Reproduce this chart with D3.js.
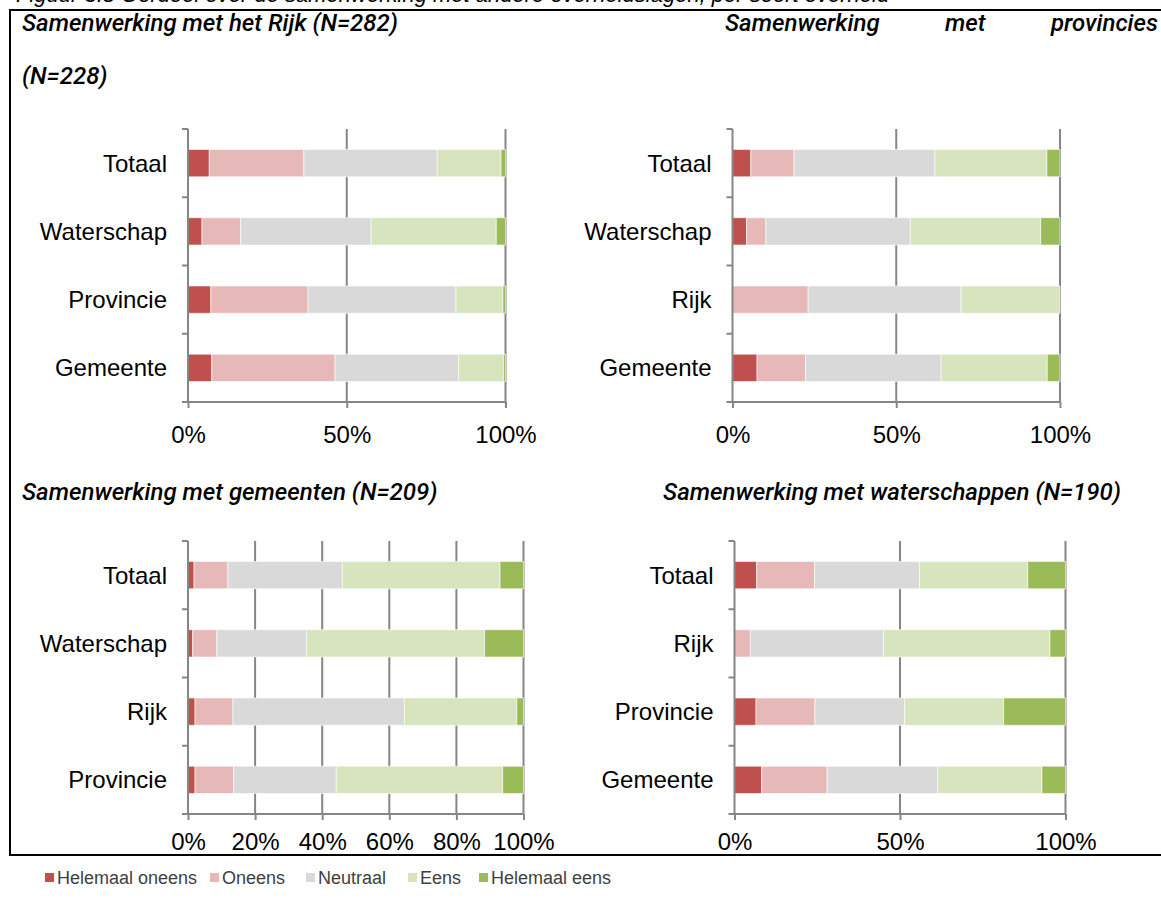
<!DOCTYPE html>
<html>
<head>
<meta charset="utf-8">
<script src="https://cdn.jsdelivr.net/npm/d3@7"></script>
<style>
  body { margin: 0; background: #fff; }
  svg { display: block; }
</style>
</head>
<body>
<script>
// answer scale, left to right in every bar
var answers = ["Helemaal oneens", "Oneens", "Neutraal", "Eens", "Helemaal eens"];
var answerColors = ["#C0504D", "#E6B9B8", "#D9D9D9", "#D7E4BD", "#9BBB59"];

// Samenwerking met het Rijk (N=282)
var rijkCategories = ["Totaal", "Waterschap", "Provincie", "Gemeente"];
var rijkValues = [
  [6.7, 29.8, 42.0, 20.1, 1.4],
  [4.4, 12.2, 41.1, 39.4, 2.9],
  [7.2, 30.6, 46.6, 14.8, 0.8],
  [7.5, 38.8, 38.9, 14.2, 0.6]
];

// Samenwerking met provincies (N=228)
var provCategories = ["Totaal", "Waterschap", "Rijk", "Gemeente"];
var provValues = [
  [5.6, 13.2, 43.0, 34.2, 4.0],
  [4.3, 5.9, 44.1, 39.8, 5.9],
  [0, 23.1, 46.7, 30.2, 0],
  [7.5, 14.8, 41.4, 32.4, 3.9]
];

// Samenwerking met gemeenten (N=209)
var gemCategories = ["Totaal", "Waterschap", "Rijk", "Provincie"];
var gemValues = [
  [1.8, 10.1, 34.1, 47.0, 7.0],
  [1.4, 7.2, 26.7, 53.1, 11.6],
  [2.1, 11.3, 51.1, 33.5, 2.0],
  [2.1, 11.5, 30.6, 49.6, 6.2]
];

// Samenwerking met waterschappen (N=190)
var wsCategories = ["Totaal", "Rijk", "Provincie", "Gemeente"];
var wsValues = [
  [6.7, 17.5, 31.7, 32.7, 11.4],
  [0, 4.8, 40.2, 50.3, 4.7],
  [6.5, 17.8, 27.1, 29.9, 18.7],
  [8.2, 19.8, 33.4, 31.5, 7.1]
];

var ticksHalf = [0, 50, 100];
var ticksFifth = [0, 20, 40, 60, 80, 100];

var width = 1161, height = 909;
var axisColor = "#868686";
var labelFont = "Liberation Sans, Arial, sans-serif";
var titleFamily = "Roboto, Liberation Sans, sans-serif";

var svg = d3.select("body").append("svg")
  .attr("width", width)
  .attr("height", height);

// caption of the figure, cut off by the top of the picture
svg.append("text")
  .attr("x", 16).attr("y", 2)
  .style("font-family", labelFont)
  .style("font-size", "22px")
  .style("font-style", "italic")
  .text("Figuur 3.8 Oordeel over de samenwerking met andere overheidslagen, per soort overheid");

// frame round the four charts
svg.append("rect")
  .attr("x", 10).attr("y", 10)
  .attr("width", 1170).attr("height", 845)
  .attr("fill", "#fff")
  .attr("stroke", "#000")
  .attr("stroke-width", 2);

// panel titles
function title(x, y, str, anchor) {
  return svg.append("text")
    .attr("x", x).attr("y", y)
    .attr("text-anchor", anchor || "start")
    .style("font-family", titleFamily)
    .style("font-size", "24px")
    .style("font-style", "italic")
    .style("font-weight", 500)
    .attr("fill", "#000")
    .text(str);
}

title(22, 31, "Samenwerking met het Rijk (N=282)");

// second title is justified over the rest of the line, its N wraps below
var w1 = title(725, 31, "Samenwerking");
var w3 = title(1158, 31, "provincies", "end");
var gapMid = (725 + w1.node().getComputedTextLength() +
  1158 - w3.node().getComputedTextLength()) / 2;
title(gapMid, 31, "met", "middle");
title(22, 84, "(N=228)");

title(22, 500, "Samenwerking met gemeenten (N=209)");
title(892, 500, "Samenwerking met waterschappen (N=190)", "middle");

var panels = [
  { cats: rijkCategories, vals: rijkValues, ticks: ticksHalf, x0: 188, x1: 505.5, y0: 129, y1: 402, pad: 18 },
  { cats: provCategories, vals: provValues, ticks: ticksHalf, x0: 732.5, x1: 1060, y0: 129, y1: 402, pad: 18 },
  { cats: gemCategories, vals: gemValues, ticks: ticksFifth, x0: 188, x1: 523.5, y0: 541, y1: 814, pad: 13 },
  { cats: wsCategories, vals: wsValues, ticks: ticksHalf, x0: 734.5, x1: 1065.5, y0: 541, y1: 814, pad: 13 }
];

panels.forEach(function (p) {
  var x = d3.scaleLinear().domain([0, 100]).range([p.x0, p.x1]);
  var y = d3.scaleBand().domain(p.cats).range([p.y0, p.y1])
    .paddingInner(0.6).paddingOuter(0.3);

  var g = svg.append("g");

  // vertical gridlines
  g.selectAll(".grid")
    .data(p.ticks.slice(1))
    .enter().append("line")
    .attr("x1", function (d) { return x(d); })
    .attr("x2", function (d) { return x(d); })
    .attr("y1", p.y0).attr("y2", p.y1)
    .attr("stroke", axisColor)
    .attr("stroke-width", 2);

  // stacked bars
  var rows = p.vals.map(function (v, i) {
    var acc = 0;
    return v.map(function (val, j) {
      var s = { cat: p.cats[i], k: j, start: acc, end: acc + val };
      acc += val;
      return s;
    });
  });

  g.selectAll(".row")
    .data(rows)
    .enter().append("g")
    .selectAll("rect")
    .data(function (d) { return d.filter(function (s) { return s.end > s.start; }); })
    .enter().append("rect")
    .attr("x", function (s) { return x(s.start); })
    .attr("width", function (s) { return x(s.end) - x(s.start); })
    .attr("y", function (s) { return y(s.cat); })
    .attr("height", y.bandwidth())
    .attr("fill", function (s) { return answerColors[s.k]; })
    .attr("stroke", "#fff")
    .attr("stroke-opacity", 0.6)
    .attr("stroke-width", 1);

  // x axis
  var xAxis = d3.axisBottom(x).tickValues(p.ticks)
    .tickFormat(function (d) { return d + "%"; })
    .tickSize(6).tickSizeOuter(0).tickPadding(p.pad);
  var gx = g.append("g")
    .attr("transform", "translate(0," + p.y1 + ")")
    .call(xAxis);
  gx.select(".domain").remove();
  gx.append("line")
    .attr("x1", p.x0 - 6).attr("x2", p.x1)
    .attr("stroke", axisColor).attr("stroke-width", 2);
  gx.selectAll(".tick line").attr("stroke", axisColor).attr("stroke-width", 2);
  gx.selectAll(".tick text")
    .attr("fill", "#000")
    .style("font-family", labelFont)
    .style("font-size", "24px");

  // y axis with ticks on the band boundaries
  var gy = g.append("g")
    .attr("transform", "translate(" + p.x0 + ",0)");
  gy.append("line")
    .attr("y1", p.y0).attr("y2", p.y1)
    .attr("stroke", axisColor).attr("stroke-width", 2);
  var bounds = p.cats.map(function (c) { return y(c) - y.step() * y.paddingInner() / 2; });
  bounds[0] = p.y0;
  gy.selectAll(".ytick")
    .data(bounds)
    .enter().append("line")
    .attr("x1", -6).attr("x2", 0)
    .attr("y1", function (d) { return d; })
    .attr("y2", function (d) { return d; })
    .attr("stroke", axisColor).attr("stroke-width", 2);
  gy.selectAll(".ylab")
    .data(p.cats)
    .enter().append("text")
    .attr("x", -21)
    .attr("y", function (c) { return y(c) + y.bandwidth() / 2; })
    .attr("dy", "0.35em")
    .attr("text-anchor", "end")
    .style("font-family", labelFont)
    .style("font-size", "24px")
    .attr("fill", "#000")
    .text(function (c) { return c; });
});

// legend below the frame
var legendX = [45, 210, 306, 408, 479];
var legend = svg.append("g").attr("transform", "translate(0,878)");
var items = legend.selectAll("g")
  .data(answers)
  .enter().append("g")
  .attr("transform", function (d, i) { return "translate(" + legendX[i] + ",0)"; });
items.append("rect")
  .attr("x", 0).attr("y", -5)
  .attr("width", 9).attr("height", 9)
  .attr("fill", function (d, i) { return answerColors[i]; });
items.append("text")
  .attr("x", 12).attr("y", 0)
  .attr("dy", "0.35em")
  .style("font-family", labelFont)
  .style("font-size", "18px")
  .attr("fill", "#404040")
  .text(function (d) { return d; });
</script>
</body>
</html>
